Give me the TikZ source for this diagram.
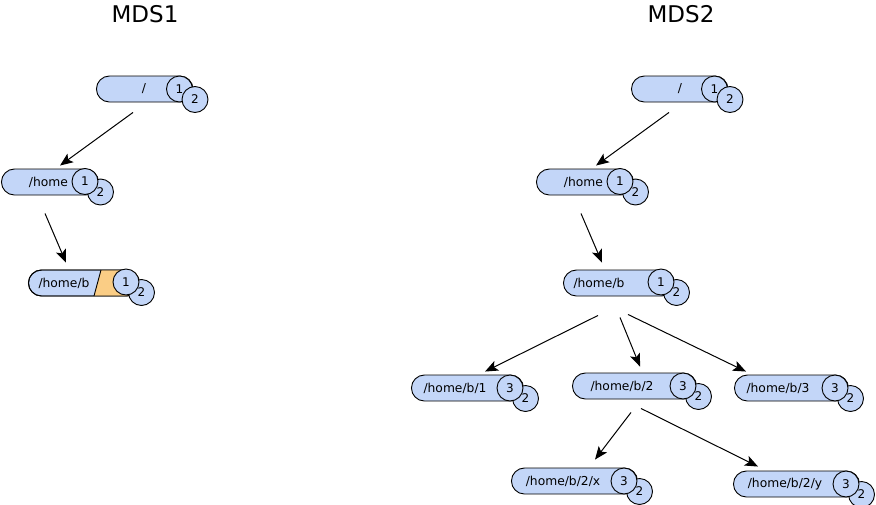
\documentclass[tikz,border=0pt]{standalone}
\usepackage{fontspec}
\setmainfont{DejaVu Sans}
\usetikzlibrary{arrows.meta,calc}
\definecolor{fsblue}{RGB}{195,214,248}
\definecolor{fsorange}{RGB}{250,205,133}
\tikzset{
  fsbar/.style={draw=black,line width=0.9pt,fill=fsblue,rounded corners=13pt,minimum height=26pt,inner sep=0pt,anchor=west},
  fscirc/.style={draw=black,line width=0.9pt,fill=fsblue,circle,minimum size=26pt,inner sep=0pt,font=\fontsize{12}{14}\selectfont},
  fstext/.style={inner sep=0pt,font=\fontsize{12.3}{14}\selectfont},
  fstitle/.style={inner sep=0pt,font=\fontsize{23}{28}\selectfont},
  arr/.style={draw=black,line width=1pt,-{Stealth[length=13pt,width=10.5pt,inset=3pt]}}
}
% name, left, cy, c1x, c1y, textx, label, d1, d2
\newcommand{\fsnode}[9]{%
  \pgfmathsetmacro\fsw{#4+13-#2}%
  \node[fsbar,minimum width=\fsw pt] (#1) at (#2,#3) {};
  \node[fstext] (#1t) at (#6,#3) {#7};
  \node[fscirc] (#1b) at (#4+15.5,#5+10.5) {#9};
  \node[fscirc] (#1a) at (#4,#5) {#8};
}
\newcommand{\fsnodeR}[9]{%
  \pgfmathsetmacro\fsw{#4+13-#2}%
  \node[fsbar,minimum width=\fsw pt] (#1) at (#2,#3) {};
  \node[fstext] (#1t) at (#6,#3) {#7};
  \node[fscirc] (#1a) at (#4,#5) {#8};
  \node[fscirc] (#1b) at (#4+15.5,#5+10.5) {#9};
}
\begin{document}
\begin{tikzpicture}[x=1pt,y=-1pt]
\useasboundingbox (0,0) rectangle (876,504);
\node[fstitle] (t1) at (145,14) {MDS1};
\node[fstitle] (t2) at (681,14) {MDS2};

% ---------- MDS1 ----------
\fsnodeR{ra}{96}{89}{179.5}{89}{144}{/}{1}{2}
\fsnode{ha}{1}{182}{85}{181.5}{48.5}{/home}{1}{2}
% /home/b with orange part
\pgfmathsetmacro\fsw{126+13-28}
\node[fsbar,minimum width=\fsw pt] (ba) at (28,283) {};
\begin{scope}
  \clip[rounded corners=13pt] (ba.south west) rectangle (ba.north east);
  \fill[fsorange] (101,270) -- (170,270) -- (170,296) -- (94,296) -- cycle;
\end{scope}
\draw[line width=0.9pt] (101,270) -- (94,296);
\node[fsbar,fill=none,minimum width=\fsw pt] (bao) at (28,283) {};
\node[fstext] (bat) at (64,283) {/home/b};
\node[fscirc] (bab) at (141.5,292.5) {2};
\node[fscirc] (baa) at (126,282) {1};

\draw[arr] ($(ra.south west)+(37,10)$) -- ($(ha.north west)+(59,-3)$);
\draw[arr] ($(ha.south west)+(44,18)$) -- ($(ba.north west)+(38,-7)$);

% ---------- MDS2 ----------
\fsnodeR{rb}{631}{89}{714.5}{89}{680}{/}{1}{2}
\fsnode{hb}{536}{182}{620}{181.5}{583.5}{/home}{1}{2}
\fsnode{bb}{563}{283}{661}{282}{599}{/home/b}{1}{2}
\fsnode{b1}{411}{388}{510}{388}{455}{/home/b/1}{3}{2}
\fsnode{b2}{572}{386}{683}{386}{622}{/home/b/2}{3}{2}
\fsnode{b3}{734}{388}{835}{388}{778}{/home/b/3}{3}{2}
\fsnode{bx}{511}{481}{624}{481}{563}{/home/b/2/x}{3}{2}
\fsnode{by}{733}{484}{846}{484}{785}{/home/b/2/y}{3}{2}

\draw[arr] ($(rb.south west)+(38,10)$) -- ($(hb.north west)+(60,-3)$);
\draw[arr] ($(hb.south west)+(45,18)$) -- ($(bb.north west)+(39,-7)$);
\draw[arr] ($(bb.south west)+(35,19)$) -- ($(b1.north west)+(74,-3)$);
\draw[arr] ($(bb.south west)+(57,21)$) -- ($(b2.north west)+(68,-6)$);
\draw[arr] ($(bb.south west)+(65,18)$) -- ($(b3.north west)+(12,-3)$);
\draw[arr] ($(b2.south west)+(59,13)$) -- ($(bx.north west)+(84,-8)$);
\draw[arr] ($(b2.south west)+(69,9)$) -- ($(by.north west)+(25,-4)$);
\end{tikzpicture}
\end{document}
